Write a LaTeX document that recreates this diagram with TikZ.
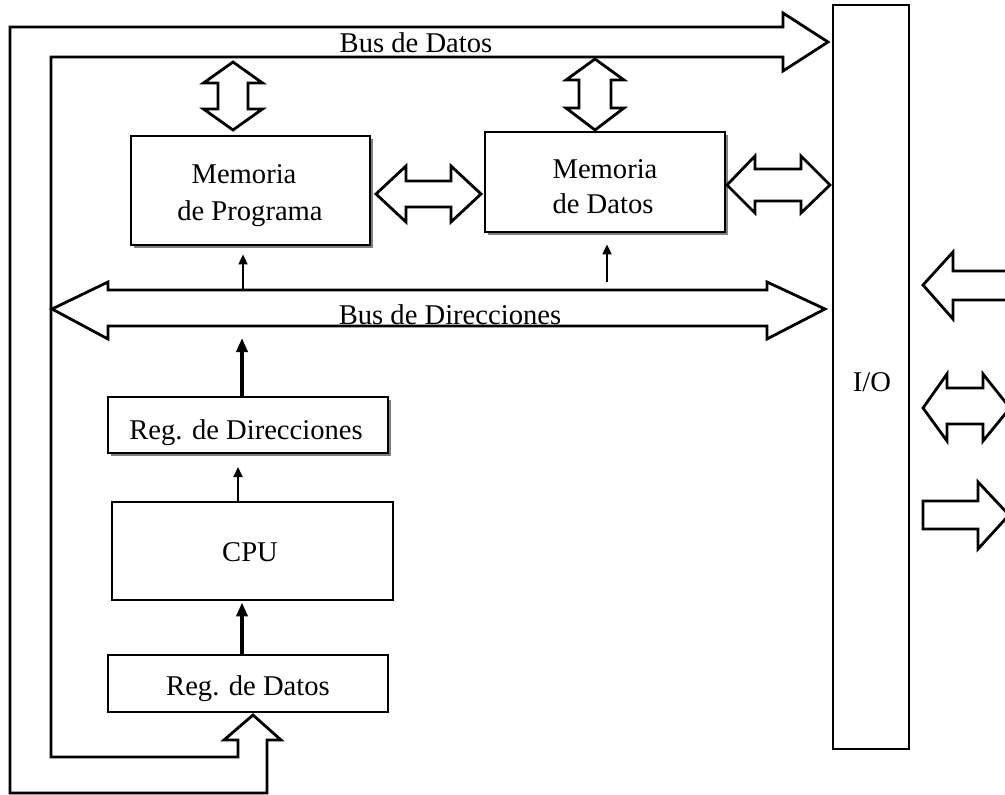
\documentclass[tikz,border=0pt]{standalone}
\usepackage{fontspec}
\setmainfont{Liberation Serif}
\usetikzlibrary{arrows.meta,shadows}
\begin{document}
\begin{tikzpicture}[x=1pt,y=-1pt,
  every node/.style={font=\fontsize{28.6}{36}\selectfont},
  box/.style={draw,line width=2.8pt,fill=white,inner sep=0pt},
  shadowbox/.style={box,drop shadow={shadow xshift=3pt,shadow yshift=-3pt,fill=black!50,opacity=1}},
  txt/.style={anchor=base,inner sep=0pt},
  blockarrow/.style={draw,line width=2.8pt,fill=white,line join=miter},
  sig/.style={line width=1.8pt,-{Triangle[length=10pt,width=9pt]}},
  sigthick/.style={line width=4.2pt,-{Triangle[length=14pt,width=11pt]}}]
\useasboundingbox (0,0) rectangle (1005,795);
\clip (0,0) rectangle (1005,795);

% data bus running round the left side into the I/O block
\draw[blockarrow] (783,27) -- (10,27) -- (10,793) -- (267,793) -- (267,740)
  -- (281,740) -- (253,715) -- (224,740) -- (238,740) -- (238,757) -- (51,757)
  -- (51,57) -- (783,57) -- (783,71) -- (828,42) -- (783,13) -- cycle;
\node[txt] (busdatos) at (416,52) {Bus de Datos};

% address bus
\draw[blockarrow] (52,309) -- (108,282) -- (108,290) -- (767,290) -- (767,282)
  -- (825,309) -- (767,339) -- (767,326) -- (108,326) -- (108,339) -- cycle;
\node[txt] (busdir) at (450,324) {Bus de Direcciones};

% blocks
\node[shadowbox,minimum width=239pt,minimum height=109pt] (mp) at (250.5,190.5) {};
\node[txt] (mp1) at (244,183) {Memoria};
\node[txt] (mp2) at (250,220) {de Programa};
\node[shadowbox,minimum width=240pt,minimum height=100pt] (md) at (605,182) {};
\node[txt] (md1) at (605,178) {Memoria};
\node[txt] (md2) at (603,213) {de Datos};
\node[box,minimum width=76pt,minimum height=744pt] (io) at (871,377) {};
\node[txt] (iolabel) at (872,391) {I/O};
\node[shadowbox,minimum width=280pt,minimum height=56pt] (rd) at (248,425) {};
\node[txt] (rdtext) at (246,439) {Reg. de Direcciones};
\node[box,minimum width=281pt,minimum height=98pt] (cpu) at (252.5,551) {};
\node[txt] (cputext) at (250,561) {CPU};
\node[box,minimum width=280pt,minimum height=57pt] (rdat) at (248,683.5) {};
\node[txt] (rdattext) at (248,695) {Reg. de Datos};

% data paths between bus and memories
\draw[blockarrow] (233,62) -- (262.5,83) -- (248,83) -- (248,109) -- (262.5,109)
  -- (233,130) -- (203.5,109) -- (218,109) -- (218,83) -- (203.5,83) -- cycle;
\draw[blockarrow] (595,59) -- (624,80) -- (611,80) -- (611,108) -- (624,108)
  -- (595,130) -- (566,108) -- (579,108) -- (579,80) -- (566,80) -- cycle;
\draw[blockarrow] (376,194) -- (406,166) -- (406,181) -- (451,181) -- (451,166)
  -- (481,194) -- (451,222) -- (451,207) -- (406,207) -- (406,222) -- cycle;
\draw[blockarrow] (727,185) -- (755,156) -- (755,169) -- (801,169) -- (801,156)
  -- (830,185) -- (801,213) -- (801,201) -- (755,201) -- (755,213) -- cycle;

% external I/O lines
\draw[blockarrow] (923,285) -- (953,252) -- (953,271) -- (1012,271) -- (1012,300)
  -- (953,300) -- (953,319) -- cycle;
\draw[blockarrow] (923,408) -- (947,374) -- (947,388) -- (983,388) -- (983,374)
  -- (1010,408) -- (983,441) -- (983,424) -- (947,424) -- (947,441) -- cycle;
\draw[blockarrow] (923,501) -- (978,501) -- (978,482) -- (1009,515) -- (978,549)
  -- (978,529) -- (923,529) -- cycle;

% address lines
\coordinate (a1) at (243,290);
\coordinate (a2) at (607,282);
\draw[sig,shorten >=8pt] (a1) -- (a1 |- mp.south);
\draw[sig,shorten >=11pt] (a2) -- (a2 |- md.south);
\draw[sigthick,shorten >=-30pt] (rd.north -| 242,0) -- (242,368);
\draw[sig,shorten <=-2pt,shorten >=14pt] (cpu.north -| 238,0) -- (238,453);
\draw[sigthick,shorten >=1pt] (rdat.north -| 242,0) -- (cpu.south -| 242,0);
\end{tikzpicture}
\end{document}
